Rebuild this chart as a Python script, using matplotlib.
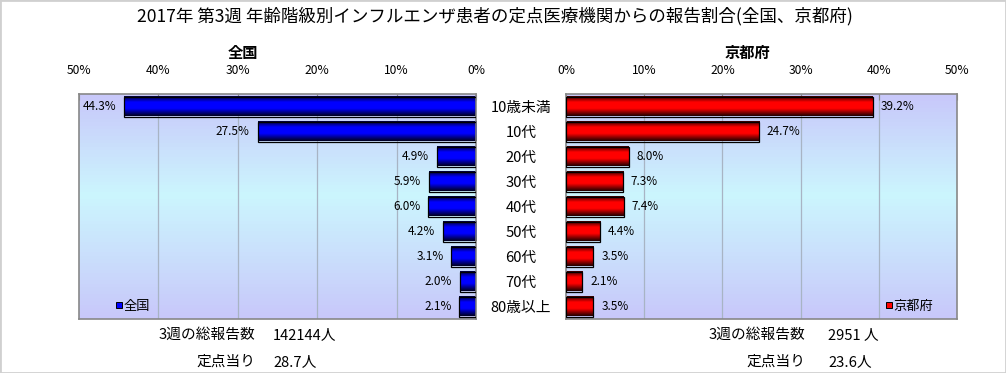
import numpy as np
import matplotlib.pyplot as plt
from matplotlib.lines import Line2D
from matplotlib.colors import LinearSegmentedColormap
from matplotlib.patches import Rectangle

plt.rcParams['font.family'] = ['Noto Sans CJK JP', 'DejaVu Sans']

# data
categories = ['10歳未満', '10代', '20代', '30代', '40代', '50代', '60代', '70代', '80歳以上']
zenkoku = [44.3, 27.5, 4.9, 5.9, 6.0, 4.2, 3.1, 2.0, 2.1]
kyoto = [39.2, 24.7, 8.0, 7.3, 7.4, 4.4, 3.5, 2.1, 3.5]
xticks = [0, 10, 20, 30, 40, 50]
title = '2017年 第3週 年齢階級別インフルエンザ患者の定点医療機関からの報告割合(全国、京都府)'
zenkoku_total = '142144人'
zenkoku_per = '28.7人'
kyoto_total = '2951 人'
kyoto_per = '23.6人'

W, H = 1006, 373
fig = plt.figure(figsize=(W / 100, H / 100), dpi=100)
fig.patches.append(Rectangle((0, 0), 1, 1, transform=fig.transFigure,
                             fill=False, edgecolor='#d0d0d0', lw=2))


def px_axes(x0, x1, ytop, ybot):
    return fig.add_axes([x0 / W, (H - ybot) / H, (x1 - x0) / W, (ybot - ytop) / H])


ax_l = px_axes(79, 476, 94, 319)
ax_r = px_axes(566, 957, 94, 319)

bg = LinearSegmentedColormap.from_list('bg', [(0.0, '#c8c8fa'), (0.45, '#ccf6fe'),
                                              (1.0, '#c8c8fa')])
blue = LinearSegmentedColormap.from_list('b', [(0, '#000030'), (0.3, '#0000ff'),
                                               (0.62, '#0000ff'), (1, '#000020')])
red = LinearSegmentedColormap.from_list('r', [(0, '#300000'), (0.3, '#ff0000'),
                                              (0.62, '#ff0000'), (1, '#200000')])
grad = np.linspace(0, 1, 64).reshape(-1, 1)

n = len(categories)
ypos = np.arange(n)


def draw(ax, vals, cmap, side):
    ax.imshow(grad, cmap=bg, extent=[0, 50, n - 0.5, -0.5], aspect='auto', zorder=0)
    for x in [10, 20, 30, 40]:
        ax.axvline(x, color='#a8b4c4', lw=0.9, zorder=1)
    for y, v in zip(ypos, vals):
        ax.imshow(grad, cmap=cmap, extent=[0, v, y + 0.4, y - 0.4], aspect='auto', zorder=2)
    ax.barh(ypos, vals, height=0.8, color='none', edgecolor='black', lw=0.9, zorder=3)
    for y, v in zip(ypos, vals):
        if side == 'left':
            ax.text(v + 1.0, y, f'{v}%', ha='right', va='center', fontsize=8.5)
        else:
            ax.text(v + 1.0, y, f'{v}%', ha='left', va='center', fontsize=8.5)
    ax.set_ylim(n - 0.5, -0.5)
    ax.set_xticks(xticks)
    ax.set_xticklabels([f'{t}%' for t in xticks])
    ax.xaxis.tick_top()
    ax.tick_params(axis='x', direction='in', length=4, color='#888888',
                   labelsize=8.7, pad=12)
    for s in ax.spines.values():
        s.set_color('#888888')
        s.set_linewidth(1.2)


draw(ax_l, zenkoku, blue, 'left')
ax_l.set_xlim(50, 0)
ax_l.set_yticks([])

draw(ax_r, kyoto, red, 'right')
ax_r.set_xlim(0, 50)
ax_r.set_yticks(ypos)
ax_r.set_yticklabels(categories)
ax_r.tick_params(axis='y', length=0, pad=32.4, labelsize=10.6)
for lab in ax_r.get_yticklabels():
    lab.set_ha('center')

# legends
h_l = Line2D([], [], marker='s', ls='none', markersize=5, markerfacecolor='#0000ff',
             markeredgecolor='black', markeredgewidth=0.7)
h_r = Line2D([], [], marker='s', ls='none', markersize=5, markerfacecolor='#ff0000',
             markeredgecolor='black', markeredgewidth=0.7)
ax_l.legend([h_l], ['全国'], loc='lower left', bbox_to_anchor=(0.065, -0.02), frameon=False,
            fontsize=9.5, handlelength=0.5, handletextpad=0.1, borderpad=0.3)
ax_r.legend([h_r], ['京都府'], loc='lower left', bbox_to_anchor=(0.79, -0.02), frameon=False,
            fontsize=9.5, handlelength=0.5, handletextpad=0.1, borderpad=0.3)

# titles
fig.text(495 / W, 1 - 16 / H, title, ha='center', va='center', fontsize=12.6)
fig.text(243 / W, 1 - 53 / H, '全国', ha='center', va='center', fontsize=11, fontweight='bold')
fig.text(747 / W, 1 - 53 / H, '京都府', ha='center', va='center', fontsize=11, fontweight='bold')

# summary text
fs = 10.6
fig.text(255 / W, 1 - 335 / H, '3週の総報告数', ha='right', va='center', fontsize=fs)
fig.text(273 / W, 1 - 335 / H, zenkoku_total, ha='left', va='center', fontsize=fs)
fig.text(255 / W, 1 - 362 / H, '定点当り', ha='right', va='center', fontsize=fs)
fig.text(273 / W, 1 - 362 / H, zenkoku_per, ha='left', va='center', fontsize=fs)
fig.text(805 / W, 1 - 335 / H, '3週の総報告数', ha='right', va='center', fontsize=fs)
fig.text(828 / W, 1 - 335 / H, kyoto_total, ha='left', va='center', fontsize=fs)
fig.text(805 / W, 1 - 362 / H, '定点当り', ha='right', va='center', fontsize=fs)
fig.text(828 / W, 1 - 362 / H, kyoto_per, ha='left', va='center', fontsize=fs)

fig.savefig('out.png', dpi=100)
